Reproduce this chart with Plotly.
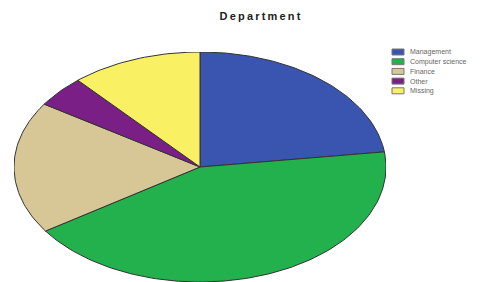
import numpy as np
import plotly.graph_objects as go

categories = ["Management", "Computer science", "Finance", "Other", "Missing"]
values = [22.9, 42.7, 18.6, 4.4, 11.4]
colors = ["#3A55B0", "#22B14C", "#D7C797", "#7A1F86", "#F9F064"]

OFF = 8  # page body margin
W, H = 496, 282
# desired screen positions of the ellipse box
SL, SR, ST, SB = 14, 386, 52, 282
L = SL - OFF
T = ST - OFF
pw = SR - SL
ph = SB - ST
R = W - L - pw
B = H - T - ph

fig = go.Figure()
total = sum(values)
start = 0.0
for cat, v, c in zip(categories, values, colors):
    a0 = start / total * 2 * np.pi
    a1 = (start + v) / total * 2 * np.pi
    th = np.linspace(a0, a1, max(int(v * 3), 8))
    xs = np.concatenate([[0], np.sin(th), [0]])
    ys = np.concatenate([[0], np.cos(th), [0]])
    fig.add_trace(go.Scatter(x=xs, y=ys, mode="lines", fill="toself",
                             fillcolor=c, line=dict(color="#333333", width=1),
                             name=cat, showlegend=False, hoverinfo="name"))
    start += v

fig.update_xaxes(range=[-1.0, 1.0], visible=False, fixedrange=True)
fig.update_yaxes(range=[-1.0, 1.0], visible=False, fixedrange=True)

def px_x(p):
    return (p - SL) / pw
def px_y(p):
    return 1 - (p - ST) / ph

ann = []
shapes = []
for i, (cat, c) in enumerate(zip(categories, colors)):
    yc = 52 + i * 9.7
    shapes.append(dict(type="rect", xref="paper", yref="paper",
                       x0=px_x(392), x1=px_x(404), y0=px_y(yc + 3), y1=px_y(yc - 3),
                       fillcolor=c, line=dict(color="#777777", width=1)))
    ann.append(dict(text=cat, xref="paper", yref="paper", x=px_x(408), y=px_y(yc),
                    xanchor="left", yanchor="middle", showarrow=False,
                    font=dict(size=7, color="#666666", family="Liberation Sans")))

title_text = "&#8201;".join("Department")
fig.update_layout(
    width=W, height=H,
    margin=dict(l=L, r=R, t=T, b=B),
    paper_bgcolor="white", plot_bgcolor="white",
    title=dict(text="<b>" + title_text + "</b>", x=(260 - OFF) / W, xanchor="center",
               y=1 - (16 - OFF) / H, yanchor="middle",
               font=dict(size=11, color="#222222", family="Liberation Sans")),
    annotations=ann, shapes=shapes,
    showlegend=False,
)

fig.write_html("out.html")
